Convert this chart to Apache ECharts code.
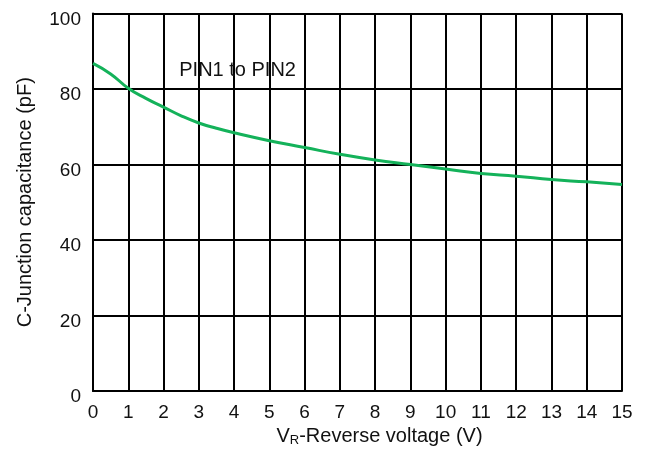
<!DOCTYPE html>
<html>
<head>
<meta charset="utf-8">
<script src="https://cdn.jsdelivr.net/npm/echarts@6/dist/echarts.min.js"></script>
<style>
  html, body { margin: 0; padding: 0; background: #fff; }
  #chart { width: 649px; height: 454px; }
</style>
</head>
<body>
<div id="chart"></div>
<script>
// Junction capacitance vs reverse voltage
const voltage = [0, 0.5, 1, 1.5, 2, 2.5, 3, 3.5, 4, 5, 6, 7, 8, 9, 10, 11, 12, 13, 14, 15];
const capacitance = [86.8, 84.0, 80.2, 77.5, 75.2, 72.9, 71.0, 69.6, 68.4, 66.3, 64.5, 62.7, 61.2, 60.0, 58.8, 57.6, 56.9, 56.0, 55.4, 54.7];
const xTicks = [0, 1, 2, 3, 4, 5, 6, 7, 8, 9, 10, 11, 12, 13, 14, 15];
const yTicks = [0, 20, 40, 60, 80, 100];
const curveLabel = 'PIN1 to PIN2';
const curveLabelAt = [4.1, 85];

const font = 'Liberation Sans, Arial, sans-serif';
const ink = '#111';
const gridLine = { show: true, lineStyle: { color: '#000', width: 2 } };

const chart = echarts.init(document.getElementById('chart'), null, { renderer: 'canvas' });
chart.setOption({
  animation: false,
  backgroundColor: '#fff',
  grid: { left: 93, right: 27, top: 13.5, bottom: 63, containLabel: false },
  xAxis: {
    type: 'value',
    min: xTicks[0],
    max: xTicks[xTicks.length - 1],
    interval: 1,
    name: '{n|V}{s|R}{n|-Reverse voltage (V)}',
    nameLocation: 'middle',
    nameGap: 28,
    nameTextStyle: {
      padding: [0, 0, 0, 44],
      rich: {
        n: { fontFamily: font, fontSize: 20, color: ink },
        s: { fontFamily: font, fontSize: 13, color: ink, padding: [7, 0, 0, 0] }
      }
    },
    axisLine: { show: true, lineStyle: { color: '#000', width: 2 } },
    axisTick: { show: false },
    axisLabel: { fontFamily: font, fontSize: 19, color: ink, margin: 12 },
    splitLine: gridLine
  },
  yAxis: {
    type: 'value',
    min: yTicks[0],
    max: yTicks[yTicks.length - 1],
    interval: 20,
    name: 'C-Junction capacitance (pF)',
    nameLocation: 'middle',
    nameGap: 58,
    nameTextStyle: { fontFamily: font, fontSize: 20, color: ink },
    axisLine: { show: true, lineStyle: { color: '#000', width: 2 } },
    axisTick: { show: false },
    axisLabel: {
      fontFamily: font, fontSize: 19, color: ink, margin: 12,
      verticalAlign: 'top', lineHeight: 12
    },
    splitLine: gridLine
  },
  series: [{
    type: 'line',
    data: voltage.map((v, i) => [v, capacitance[i]]),
    smooth: 0.5,
    showSymbol: false,
    symbol: 'none',
    lineStyle: { color: '#14b25a', width: 3 },
    markPoint: {
      symbol: 'rect',
      symbolSize: 0,
      silent: true,
      data: [{ coord: curveLabelAt }],
      label: {
        show: true,
        position: 'inside',
        formatter: curveLabel,
        fontFamily: font,
        fontSize: 20,
        color: ink
      }
    }
  }]
});
</script>
</body>
</html>
